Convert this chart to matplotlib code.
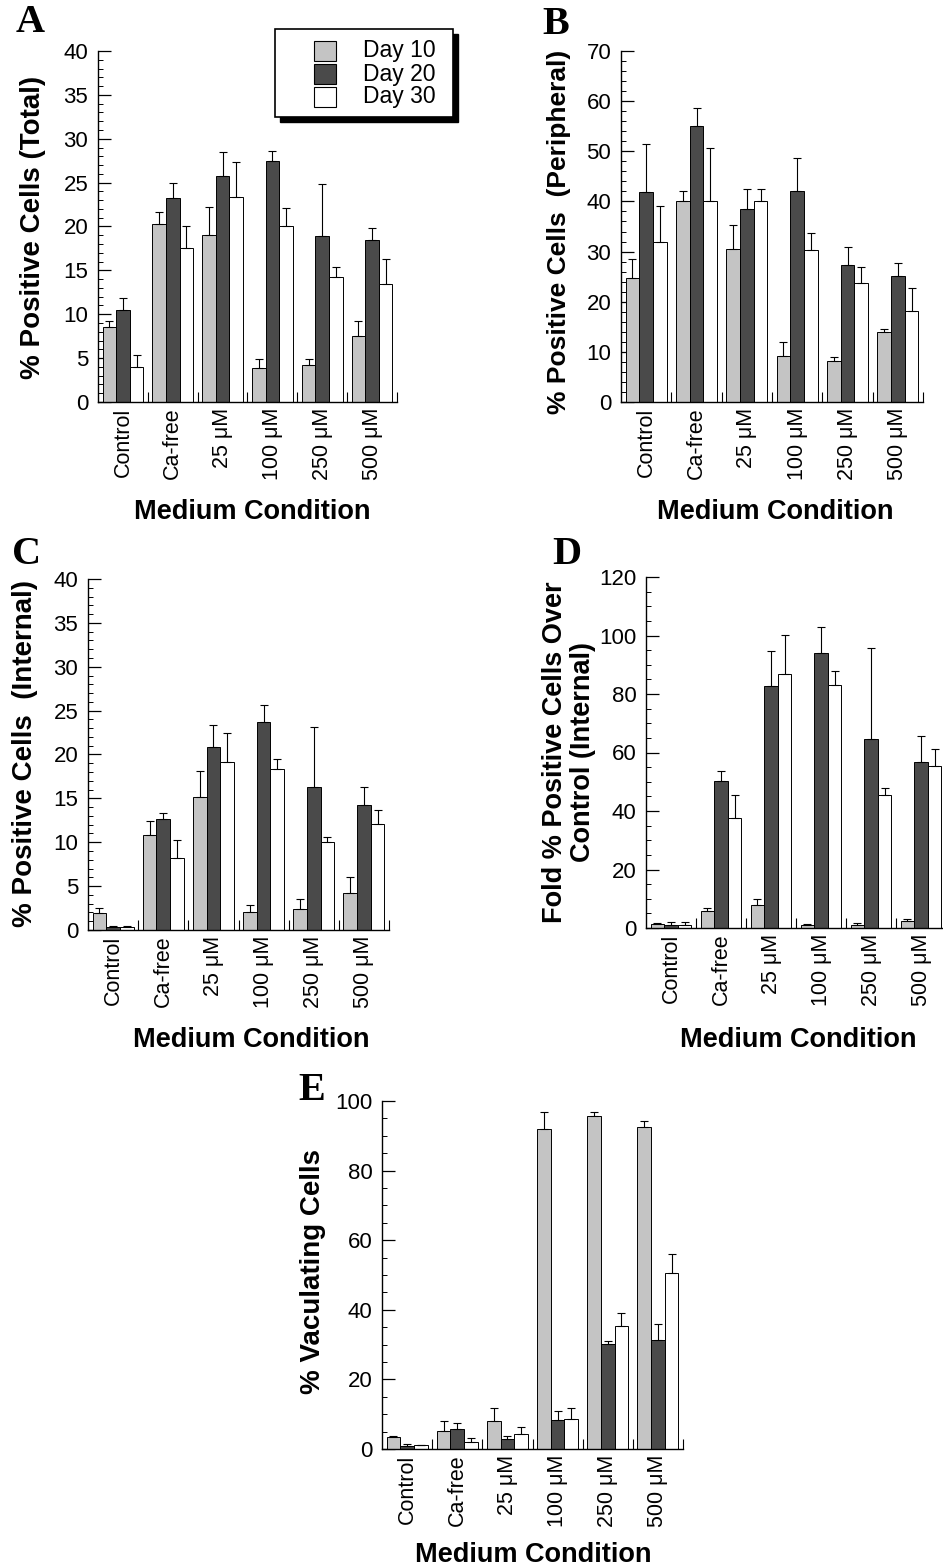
import matplotlib
matplotlib.use("Agg")
import matplotlib.pyplot as plt
import numpy as np
from matplotlib.patches import Rectangle
from matplotlib.ticker import MultipleLocator, FixedLocator

plt.rcParams['font.family'] = ['Liberation Sans', 'DejaVu Sans']

# ---------------- data ----------------
conditions = ["Control", "Ca-free", "25 μM", "100 μM", "250 μM", "500 μM"]
series = ["Day 10", "Day 20", "Day 30"]

# Panel A: % Positive Cells (Total)
A_d10 = [8.5, 20.25, 19.0, 3.9, 4.2, 7.5]
A_d20 = [10.5, 23.2, 25.7, 27.5, 18.9, 18.5]
A_d30 = [4.0, 17.5, 23.4, 20.1, 14.3, 13.5]
A_e10 = [0.75, 1.35, 3.2, 1.0, 0.7, 1.7]
A_e20 = [1.4, 1.8, 2.8, 1.05, 5.9, 1.3]
A_e30 = [1.3, 2.6, 4.0, 2.0, 1.1, 2.8]

# Panel B: % Positive Cells (Peripheral)
B_d10 = [24.8, 40.1, 30.6, 9.1, 8.1, 14.0]
B_d20 = [41.8, 55.0, 38.4, 42.0, 27.4, 25.1]
B_d30 = [32.0, 40.1, 40.1, 30.4, 23.7, 18.1]
B_e10 = [3.8, 2.0, 4.6, 2.9, 0.9, 0.6]
B_e20 = [9.7, 3.7, 4.0, 6.7, 3.6, 2.7]
B_e30 = [7.1, 10.6, 2.3, 3.3, 3.2, 4.7]

# Panel C: % Positive Cells (Internal)
C_d10 = [1.9, 10.8, 15.2, 2.0, 2.4, 4.2]
C_d20 = [0.3, 12.6, 20.8, 23.65, 16.3, 14.2]
C_d30 = [0.3, 8.25, 19.1, 18.3, 10.0, 12.1]
C_e10 = [0.6, 1.6, 2.9, 0.8, 1.1, 1.8]
C_e20 = [0.2, 0.7, 2.6, 1.95, 6.8, 2.1]
C_e30 = [0.2, 1.95, 3.4, 1.2, 0.6, 1.6]

# Panel D: Fold % Positive Cells Over Control (Internal)
D_d10 = [1.25, 5.8, 8.0, 1.1, 1.1, 2.3]
D_d20 = [1.1, 50.3, 82.7, 94.0, 64.6, 56.75]
D_d30 = [1.1, 37.7, 86.8, 83.2, 45.6, 55.3]
D_e10 = [0.3, 0.9, 1.8, 0.3, 0.7, 0.7]
D_e20 = [0.8, 3.3, 12.0, 8.9, 31.1, 8.85]
D_e30 = [0.8, 7.8, 13.4, 4.7, 2.3, 5.9]

# Panel E: % Vaculating Cells
E_d10 = [3.4, 5.3, 8.0, 92.0, 95.8, 92.5]
E_d20 = [1.0, 5.7, 2.9, 8.4, 30.2, 31.4]
E_d30 = [1.05, 2.0, 4.2, 8.7, 35.3, 50.7]
E_e10 = [0.4, 2.8, 3.7, 4.9, 0.9, 1.8]
E_e20 = [0.3, 1.8, 0.7, 2.4, 0.9, 4.5]
E_e30 = [0.0, 1.1, 2.1, 3.1, 3.7, 5.2]

# ---------------- style ----------------
W, H = 943, 1567
colors = ["#c4c4c4", "#4a4a4a", "#ffffff"]
fig = plt.figure(figsize=(W / 100, H / 100), dpi=100)


def rect(x0, y0, x1, y1):
    return [x0 / W, 1 - y1 / H, (x1 - x0) / W, (y1 - y0) / H]


def fx(x):
    return x / W


def fy(y):
    return 1 - y / H


def panel(box, vals, errs, ymax, major, minor):
    ax = fig.add_axes(rect(*box))
    n = len(conditions)
    x = np.arange(n)
    w = 0.273
    for i, (v, e) in enumerate(zip(vals, errs)):
        xi = x + (i - 1) * w
        ax.bar(xi, v, width=w, color=colors[i], edgecolor="black",
               linewidth=0.7, zorder=2)
        ax.errorbar(xi, v, yerr=[np.zeros(len(e)), e], fmt="none",
                    ecolor="black", elinewidth=0.8, capsize=3.2,
                    capthick=0.8, zorder=3)
    ax.set_xlim(-0.5, n - 0.5)
    ax.set_ylim(0, ymax)
    for s in ["top", "right"]:
        ax.spines[s].set_visible(False)
    ax.spines["left"].set_linewidth(1.0)
    ax.spines["bottom"].set_linewidth(1.0)
    ax.yaxis.set_major_locator(MultipleLocator(major))
    ax.yaxis.set_minor_locator(MultipleLocator(minor))
    ax.tick_params(axis="y", which="major", direction="in", length=9,
                   width=0.9, labelsize=16, pad=7)
    ax.tick_params(axis="y", which="minor", direction="in", length=3.5,
                   width=0.7)
    # group separators as major ticks, labels at group centres (minor)
    ax.xaxis.set_major_locator(FixedLocator(list(np.arange(1, n + 1) - 0.5)))
    ax.set_xticklabels([], minor=False)
    ax.set_xticks(x, minor=True)
    ax.set_xticklabels(conditions, minor=True, rotation=90, fontsize=15.5)
    ax.tick_params(axis="x", which="major", direction="in", length=7,
                   width=0.8)
    ax.tick_params(axis="x", which="minor", length=0, pad=4)
    return ax


panels = [
    ("A", (98, 51, 397, 402), [A_d10, A_d20, A_d30], [A_e10, A_e20, A_e30], 40, 5, 1,
     "% Positive Cells (Total)", (33, 227), 20, (30, 23), (252, 512)),
    ("B", (621, 51, 923, 402), [B_d10, B_d20, B_d30], [B_e10, B_e20, B_e30], 70, 10, 2,
     "% Positive Cells  (Peripheral)", (559, 232), 19, (556, 24), (775, 512)),
    ("C", (88, 579, 389, 930), [C_d10, C_d20, C_d30], [C_e10, C_e20, C_e30], 40, 5, 1,
     "% Positive Cells  (Internal)", (25, 754), 20, (27, 555), (251, 1040)),
    ("D", (646, 577, 946, 928), [D_d10, D_d20, D_d30], [D_e10, D_e20, D_e30], 120, 20, 5,
     "Fold % Positive Cells Over\nControl (Internal)", (569, 752), 19.5, (567, 555), (798, 1040)),
    ("E", (382, 1101, 683, 1449), [E_d10, E_d20, E_d30], [E_e10, E_e20, E_e30], 100, 20, 5,
     "% Vaculating Cells", (313, 1272), 20, (312, 1091), (533, 1555)),
]

for letter, box, vals, errs, ymax, major, minor, ylab, ylpos, ylfs, lpos, xlpos in panels:
    ax = panel(box, vals, errs, ymax, major, minor)
    fig.text(fx(ylpos[0]), fy(ylpos[1]), ylab, rotation=90, ha="center",
             va="center", fontsize=ylfs, fontweight="bold", linespacing=1.05,
             multialignment="center")
    fig.text(fx(lpos[0]), fy(lpos[1]), letter, ha="center", va="center",
             fontsize=29, fontweight="bold",
             family=["Liberation Serif", "DejaVu Serif"])
    fig.text(fx(xlpos[0]), fy(xlpos[1]), "Medium Condition", ha="center",
             va="center", fontsize=19.5, fontweight="bold")

# ---------------- legend (drawn manually, with shadow) ----------------
lx0, ly0, lx1, ly1 = 275, 29, 453, 117
fig.patches.append(Rectangle((fx(lx0 + 5), fy(ly1 + 5)), (lx1 - lx0) / W,
                             (ly1 - ly0) / H, transform=fig.transFigure,
                             facecolor="black", edgecolor="black", zorder=5))
fig.patches.append(Rectangle((fx(lx0), fy(ly1)), (lx1 - lx0) / W,
                             (ly1 - ly0) / H, transform=fig.transFigure,
                             facecolor="white", edgecolor="black",
                             linewidth=1.2, zorder=6))
rows = [(41, 61), (64, 84), (87, 107)]
for (r0, r1), c, lab in zip(rows, colors, series):
    fig.patches.append(Rectangle((fx(314), fy(r1)), 22 / W, (r1 - r0) / H,
                                 transform=fig.transFigure, facecolor=c,
                                 edgecolor="black", linewidth=0.8, zorder=7))
    fig.text(fx(363), fy((r0 + r1) / 2), lab, ha="left", va="center",
             fontsize=16.5, zorder=8)

fig.savefig("out.png", dpi=100)
